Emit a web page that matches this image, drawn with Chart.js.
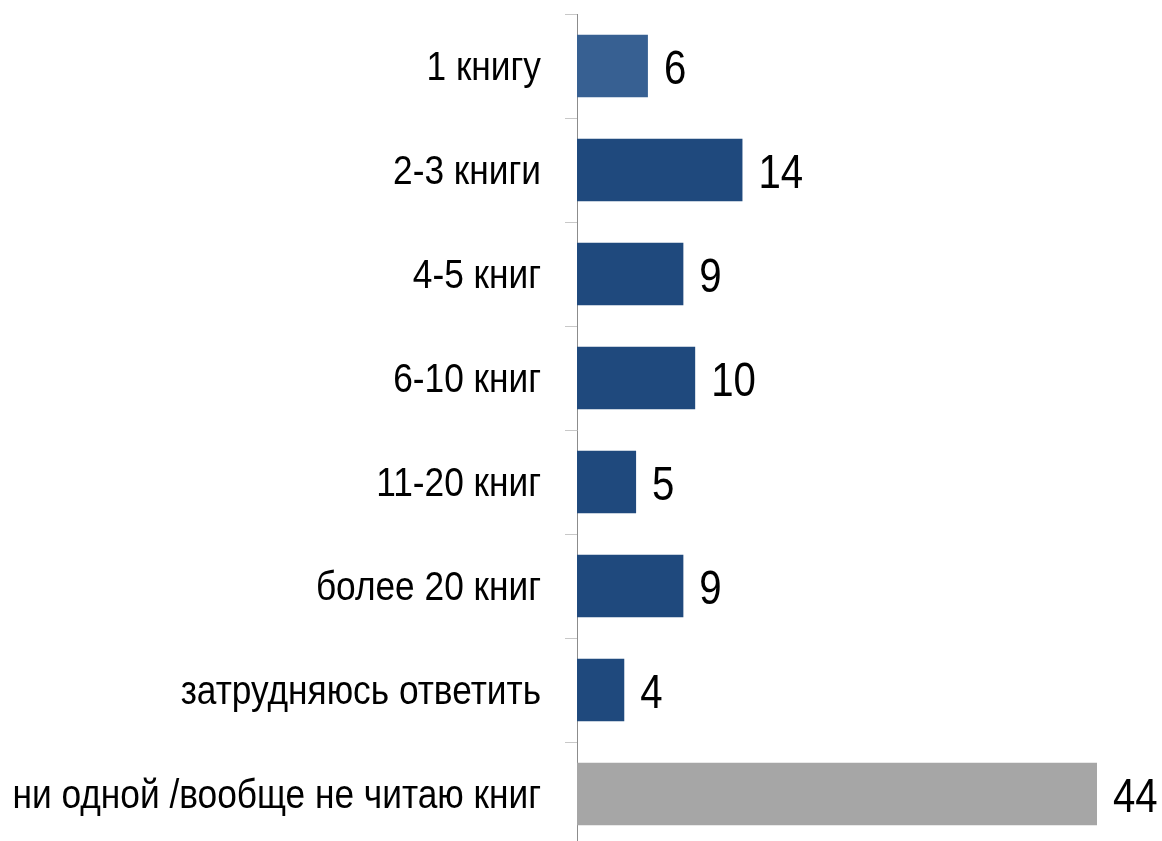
<!DOCTYPE html>
<html>
<head>
<meta charset="utf-8">
<script src="https://cdn.jsdelivr.net/npm/chart.js@4/dist/chart.umd.min.js"></script>
<style>
  html, body { margin: 0; padding: 0; background: #fff; overflow: hidden; }
  #wrap { width: 1162px; height: 846px; }
</style>
</head>
<body>
<div id="wrap"><canvas id="chart"></canvas></div>
<script>
const categories = ['1 книгу', '2-3 книги', '4-5 книг', '6-10 книг', '11-20 книг', 'более 20 книг', 'затрудняюсь ответить', 'ни одной /вообще не читаю книг'];
const values = [6, 14, 9, 10, 5, 9, 4, 44];
const barColors = ['#376092', '#1F497D', '#1F497D', '#1F497D', '#1F497D', '#1F497D', '#1F497D', '#A6A6A6'];

const fontFamily = '"Liberation Sans", Arial, sans-serif';

// draws text squeezed horizontally (imitates Arial Narrow)
function narrowText(ctx, text, x, y, sx) {
    ctx.save();
    ctx.translate(x, y);
    ctx.scale(sx, 1);
    ctx.fillText(text, 0, 0);
    ctx.restore();
}

const textLabels = {
    id: 'textLabels',
    afterDatasetsDraw(chart) {
        const ctx = chart.ctx;
        const meta = chart.getDatasetMeta(0);
        const yScale = chart.scales.y;
        ctx.save();
        ctx.fillStyle = '#000';
        ctx.textBaseline = 'middle';

        // category labels
        ctx.font = '41px ' + fontFamily;
        ctx.textAlign = 'right';
        categories.forEach((c, i) => {
            narrowText(ctx, c, yScale.right - 36, yScale.getPixelForValue(i) + 3, 0.86);
        });

        // values
        ctx.font = '49px ' + fontFamily;
        ctx.textAlign = 'left';
        meta.data.forEach((bar, i) => {
            narrowText(ctx, String(values[i]), bar.x + 16, bar.y + 4, 0.82);
        });
        ctx.restore();
    }
};

new Chart(document.getElementById('chart'), {
    type: 'bar',
    data: {
        labels: categories,
        datasets: [{
            data: values,
            backgroundColor: barColors,
            borderWidth: 0,
            barPercentage: 0.6,
            categoryPercentage: 1
        }]
    },
    options: {
        indexAxis: 'y',
        responsive: true,
        maintainAspectRatio: false,
        animation: false,
        layout: { padding: { top: 14, right: 0, bottom: 0, left: 0 } },
        scales: {
            x: { display: false, min: 0, max: 49.5 },
            y: {
                afterFit: (scale) => { scale.width = 577; },
                grid: { drawOnChartArea: false, tickLength: 12, color: '#c8c8c8', offset: true },
                border: { color: '#8c8c8c', width: 1 },
                ticks: { display: false }
            }
        },
        plugins: { legend: { display: false }, tooltip: { enabled: false } }
    },
    plugins: [textLabels]
});
</script>
</body>
</html>
